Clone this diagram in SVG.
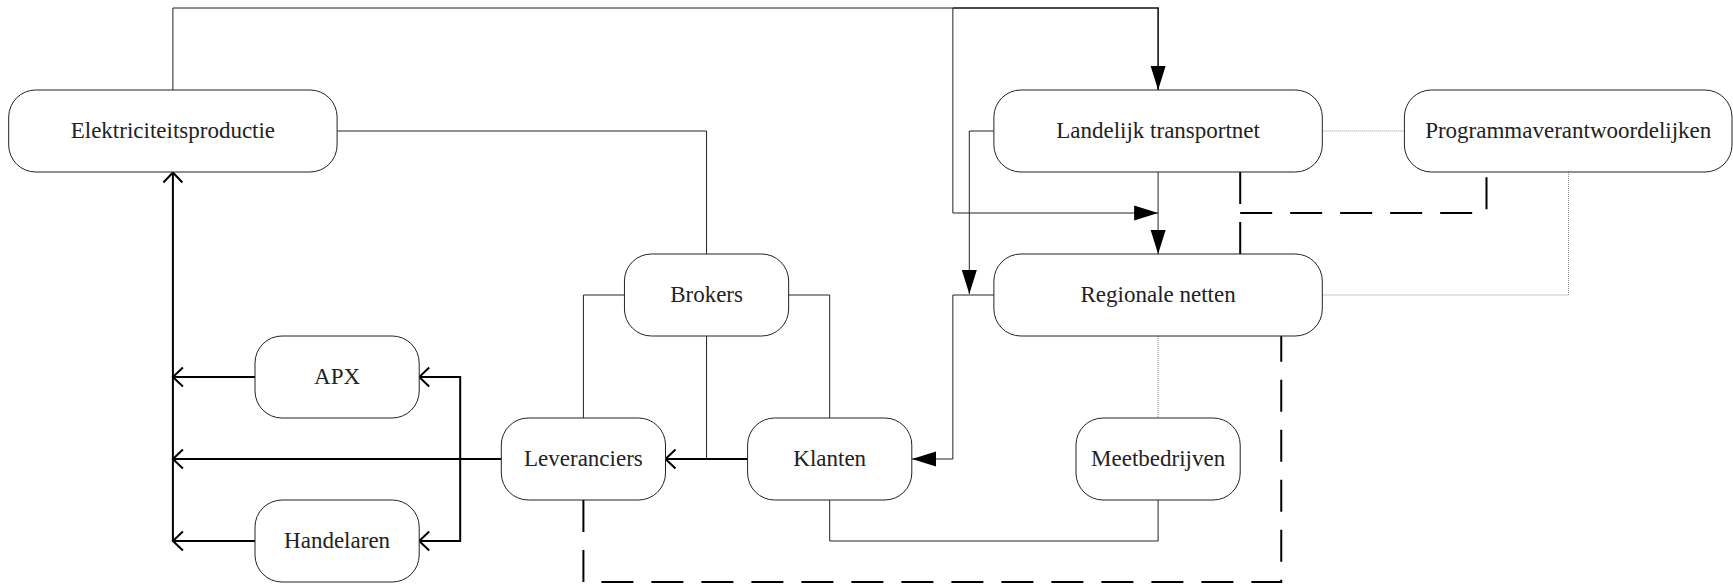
<svg xmlns="http://www.w3.org/2000/svg" width="1733" height="584" viewBox="0 0 1733 584">
  <style>
    .node rect { fill: #ffffff; stroke: #222222; stroke-width: 1; }
    .node text { font-family: "Liberation Serif", "Times New Roman", serif; font-size: 23px; fill: #222222; text-anchor: middle; }
    .thin { fill: none; stroke: #222222; stroke-width: 1; }
    .mid { fill: none; stroke: #111111; stroke-width: 1.6; }
    .thick { fill: none; stroke: #000000; stroke-width: 2; }
    .dotted { fill: none; stroke: #8a8a8a; stroke-width: 1; stroke-dasharray: 1 1; }
    .dashed { fill: none; stroke: #000000; stroke-width: 2; stroke-dasharray: 32 18; }
  </style>
  <defs>
    <marker id="tri" markerUnits="userSpaceOnUse" markerWidth="26" markerHeight="18" viewBox="-25 -9 26 18" refX="0" refY="0" orient="auto">
      <path d="M-24,-7.5 L0,0 L-24,7.5 Z" fill="#000000"/>
    </marker>
    <marker id="open" markerUnits="userSpaceOnUse" markerWidth="16" markerHeight="26" viewBox="-13 -13 16 26" refX="0" refY="0" orient="auto">
      <path d="M-10,-9.5 L0,0 L-10,9.5" fill="none" stroke="#000000" stroke-width="2"/>
    </marker>
  </defs>

  <rect x="0" y="0" width="1733" height="584" fill="#ffffff"/>

  <g id="connectors">
    <!-- production to national grid and to the grid link -->
    <path class="thin" d="M172.9,90 V8 H952.85 V213 H1158.1" marker-end="url(#tri)"/>
    <path class="mid" d="M952.85,8 H1158.1 V90" marker-end="url(#tri)"/>
    <!-- national grid to regional grids -->
    <path class="thin" d="M1158.1,172 V254" marker-end="url(#tri)"/>
    <path class="thin" d="M993.9,131 H969.3 V294" marker-end="url(#tri)"/>
    <!-- regional grids to customers -->
    <path class="thin" d="M993.9,295 H952.85 V459 H912" marker-end="url(#tri)"/>
    <!-- production to brokers -->
    <path class="thin" d="M337.1,131 H706.55 V254"/>
    <!-- brokers links -->
    <path class="thin" d="M624.45,295 H583.4 V418"/>
    <path class="thin" d="M788.65,295 H829.7 V418"/>
    <path class="thin" d="M706.55,336 V459"/>
    <!-- customers to metering companies -->
    <path class="thin" d="M829.7,500 V541 H1158.1 V500"/>

    <!-- supply chain -->
    <path class="thick" d="M747.6,459 H665.5" marker-end="url(#open)"/>
    <path class="thick" d="M501.3,459 H172.9" marker-end="url(#open)"/>
    <path class="thick" d="M255,377 H172.9" marker-end="url(#open)"/>
    <path class="thick" d="M255,541 H172.9" marker-end="url(#open)"/>
    <path class="thick" d="M172.9,541 V172.5" marker-end="url(#open)"/>
    <path class="thick" d="M460.2,459 V377 H419.2" marker-end="url(#open)"/>
    <path class="thick" d="M460.2,459 V541 H419.2" marker-end="url(#open)"/>

    <!-- dotted relations -->
    <path class="dotted" d="M1322.3,131 H1404.4"/>
    <path class="dotted" d="M1568.5,172 V295 H1322.3"/>
    <path class="dotted" d="M1158.1,336 V418"/>

    <!-- dashed relations -->
    <path class="dashed" d="M1240.2,172 V254"/>
    <path class="dashed" d="M1240.2,213 H1486.5 V172"/>
    <path class="dashed" d="M583.4,500 V582 H1281.25 V336"/>
  </g>

  <g id="elektriciteitsproductie" class="node">
    <rect x="8.7" y="90" width="328.4" height="82" rx="27" ry="27"/>
    <text x="172.9" y="138">Elektriciteitsproductie</text>
  </g>
  <g id="landelijk-transportnet" class="node">
    <rect x="993.9" y="90" width="328.4" height="82" rx="27" ry="27"/>
    <text x="1158.1" y="138">Landelijk transportnet</text>
  </g>
  <g id="programmaverantwoordelijken" class="node">
    <rect x="1404.4" y="90" width="327.6" height="82" rx="27" ry="27"/>
    <text x="1568.2" y="138">Programmaverantwoordelijken</text>
  </g>
  <g id="brokers" class="node">
    <rect x="624.45" y="254" width="164.2" height="82" rx="27" ry="27"/>
    <text x="706.55" y="302">Brokers</text>
  </g>
  <g id="regionale-netten" class="node">
    <rect x="993.9" y="254" width="328.4" height="82" rx="27" ry="27"/>
    <text x="1158.1" y="302">Regionale netten</text>
  </g>
  <g id="apx" class="node">
    <rect x="255" y="336" width="164.2" height="82" rx="27" ry="27"/>
    <text x="337.1" y="384">APX</text>
  </g>
  <g id="leveranciers" class="node">
    <rect x="501.3" y="418" width="164.2" height="82" rx="27" ry="27"/>
    <text x="583.4" y="466">Leveranciers</text>
  </g>
  <g id="klanten" class="node">
    <rect x="747.6" y="418" width="164.2" height="82" rx="27" ry="27"/>
    <text x="829.7" y="466">Klanten</text>
  </g>
  <g id="meetbedrijven" class="node">
    <rect x="1076" y="418" width="164.2" height="82" rx="27" ry="27"/>
    <text x="1158.1" y="466">Meetbedrijven</text>
  </g>
  <g id="handelaren" class="node">
    <rect x="255" y="500" width="164.2" height="82" rx="27" ry="27"/>
    <text x="337.1" y="548">Handelaren</text>
  </g>
</svg>
